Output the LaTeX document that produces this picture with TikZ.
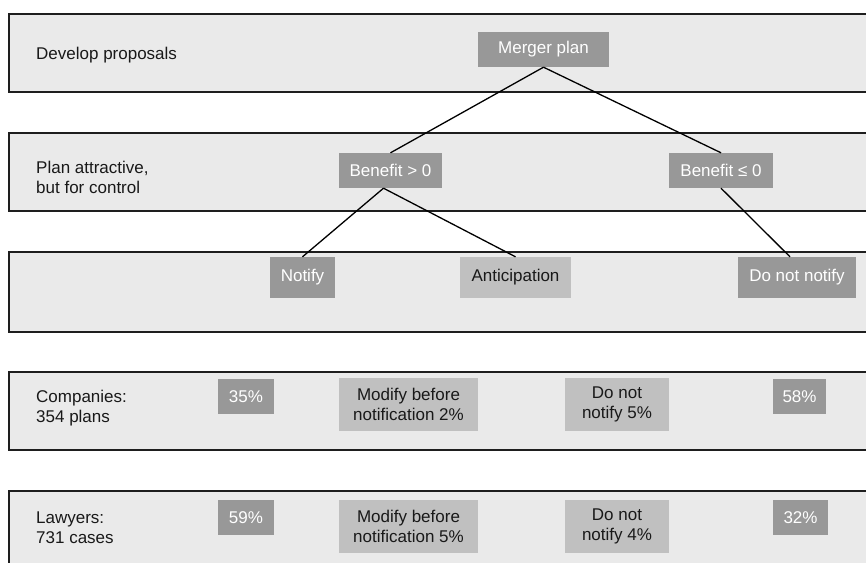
\documentclass[tikz,border=0pt]{standalone}
\usepackage{fontspec}
\setmainfont{Liberation Sans}
\usepackage{tikz}

\definecolor{bandgray}{HTML}{EAEAEA}
\definecolor{boxdark}{HTML}{989898}
\definecolor{boxlight}{HTML}{C0C0C0}
\definecolor{rulegray}{HTML}{1E1E1E}

\begin{document}
\begin{tikzpicture}[x=1pt, y=-1pt, font=\fontsize{17}{20}\selectfont,
    band/.style={fill=bandgray, draw=rulegray, line width=1.8pt},
    bandlabel/.style={anchor=west, align=left, inner sep=0pt, text=black!90},
    darkbox/.style={fill=boxdark, text=white, inner sep=0pt, align=center},
    lightbox/.style={fill=boxlight, text=black!90, inner sep=0pt, align=center},
    link/.style={line width=1.3pt}]
  \useasboundingbox (0,0) rectangle (866,562);

  % horizontal bands
  \draw[band] (9,14) rectangle (880,92);
  \draw[band] (9,133) rectangle (880,211);
  \draw[band] (9,252) rectangle (880,332);
  \draw[band] (9,372) rectangle (880,450);
  \draw[band] (9,491) rectangle (880,580);

  \node[bandlabel] (lbdevelop) at (36,55) {Develop proposals};
  \node[bandlabel] (lbcontrol) at (36,177) {Plan attractive,\\but for control};
  \node[bandlabel] (lbfirms) at (36,408) {Companies:\\354 plans};
  \node[bandlabel] (lblawyers) at (36,528) {Lawyers:\\731 cases};

  % tree
  \node[darkbox, minimum width=131pt, minimum height=35pt] (plan) at (543.5,49.5) {Merger plan};
  \node[darkbox, minimum width=103pt, minimum height=35pt] (pos) at (390.5,170.5) {Benefit > 0};
  \node[darkbox, minimum width=104pt, minimum height=35pt] (neg) at (721,170.5) {Benefit ≤ 0};
  \node[darkbox, minimum width=65pt, minimum height=41pt] (notify) at (302.5,277.5) {Notify};
  \node[lightbox, minimum width=111pt, minimum height=41pt] (antic) at (515.5,277.5) {Anticipation};
  \node[darkbox, minimum width=118pt, minimum height=41pt] (nonotify) at (797,277.5) {Do not notify};

  \draw[link] (plan.south) -- (pos.north);
  \draw[link] (plan.south) -- (neg.north);
  \draw[link] ([xshift=-7pt]pos.south) -- (notify.north);
  \draw[link] ([xshift=-7pt]pos.south) -- (antic.north);
  \draw[link] (neg.south) -- ([xshift=-7pt]nonotify.north);

  % survey results
  \node[darkbox, minimum width=56pt, minimum height=35pt] (firmsnotify) at (246,396.5) {35\%};
  \node[lightbox, minimum width=139pt, minimum height=53pt] (firmsmodify) at (408.5,404.5) {Modify before\\notification 2\%};
  \node[lightbox, minimum width=104pt, minimum height=53pt] (firmsskip) at (617,404.5) {Do not\\notify 5\%};
  \node[darkbox, minimum width=53pt, minimum height=35pt] (firmsnone) at (799.5,396.5) {58\%};

  \node[darkbox, minimum width=56pt, minimum height=35pt] (lawnotify) at (246,517.5) {59\%};
  \node[lightbox, minimum width=139pt, minimum height=53pt] (lawmodify) at (408.5,526.5) {Modify before\\notification 5\%};
  \node[lightbox, minimum width=104pt, minimum height=53pt] (lawskip) at (617,526.5) {Do not\\notify 4\%};
  \node[darkbox, minimum width=55pt, minimum height=35pt] (lawnone) at (800.5,517.5) {32\%};
\end{tikzpicture}
\end{document}
